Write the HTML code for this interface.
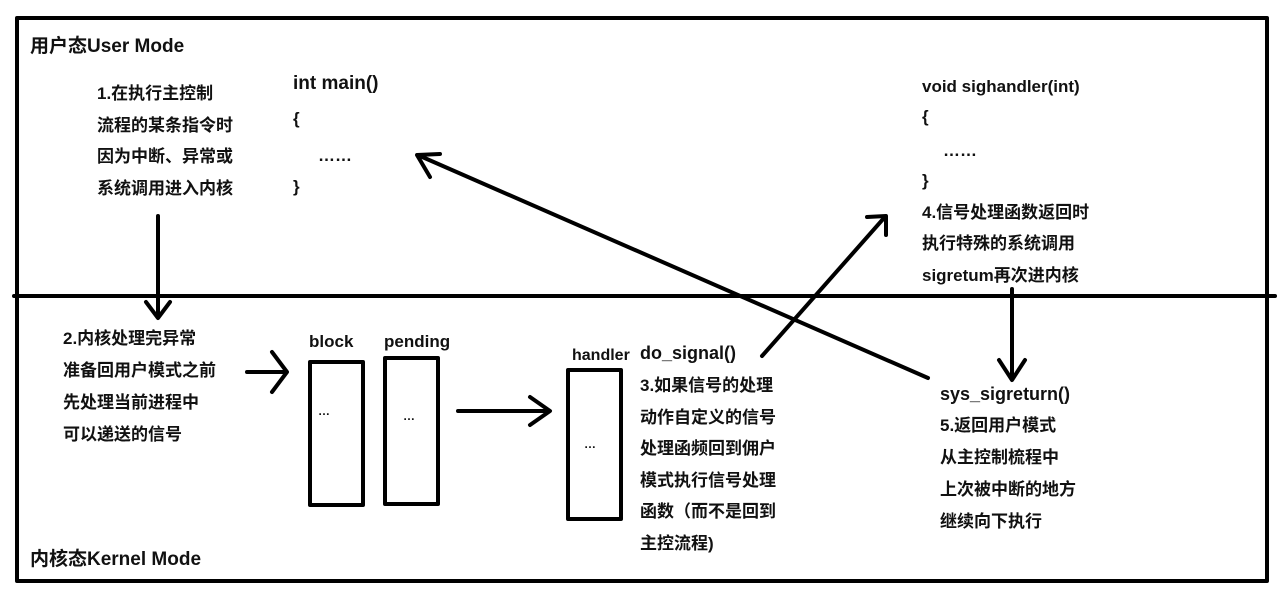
<!DOCTYPE html>
<html><head><meta charset="utf-8"><style>
html,body{margin:0;padding:0;background:#fff;}
svg{display:block}
text{font-family:"Liberation Sans","Noto Sans CJK SC",sans-serif;font-weight:bold;font-size:17px;fill:#111}
</style></head><body>
<svg width="1280" height="594" viewBox="0 0 1280 594" xmlns="http://www.w3.org/2000/svg">
<g stroke="#000" stroke-width="4" fill="none" stroke-linecap="round" stroke-linejoin="round">
<rect x="17" y="18" width="1250" height="563"/>
<line x1="14" y1="296" x2="1275" y2="296"/>
<rect x="310" y="362" width="53" height="143"/>
<rect x="385" y="358" width="53" height="146"/>
<rect x="568" y="370" width="53" height="149"/>
<!-- arrow 1 -->
<line x1="158" y1="216" x2="158" y2="316"/>
<polyline points="146,302 158,318 170,302"/>
<!-- arrow 2 -->
<line x1="247" y1="372" x2="286" y2="372"/>
<polyline points="272,352 287,372 272,392"/>
<!-- arrow pending->handler -->
<line x1="458" y1="411" x2="549" y2="411"/>
<polyline points="530,397 550,411 530,425"/>
<!-- long arrow sys_sigreturn -> main -->
<line x1="928" y1="378" x2="420" y2="156"/>
<polyline points="440,154 417,155 430,177"/>
<!-- do_signal -> handler -->
<line x1="762" y1="356" x2="884" y2="218"/>
<polyline points="867,217 886,216 886,235"/>
<!-- down arrow -->
<line x1="1012" y1="289" x2="1012" y2="378"/>
<polyline points="999,360 1012,380 1025,360"/>
</g>
<text x="30" y="52" style="font-size:19px">用户态User Mode</text>
<text x="30" y="565" style="font-size:19px">内核态Kernel Mode</text>
<text x="97" y="99">1.在执行主控制</text>
<text x="97" y="131">流程的某条指令时</text>
<text x="97" y="162">因为中断、异常或</text>
<text x="97" y="194">系统调用进入内核</text>
<text x="293" y="89" style="font-size:19px">int main()</text>
<text x="293" y="124">{</text>
<text x="318" y="161">……</text>
<text x="293" y="192">}</text>
<text x="922" y="92">void sighandler(int)</text>
<text x="922" y="122">{</text>
<text x="943" y="156">……</text>
<text x="922" y="186">}</text>
<text x="922" y="218">4.信号处理函数返回时</text>
<text x="922" y="249">执行特殊的系统调用</text>
<text x="922" y="281">sigretum再次进内核</text>
<text x="63" y="344">2.内核处理完异常</text>
<text x="63" y="376">准备回用户模式之前</text>
<text x="63" y="408">先处理当前进程中</text>
<text x="63" y="440">可以递送的信号</text>
<text x="309" y="347">block</text>
<text x="384" y="347">pending</text>
<text x="318" y="415" style="font-size:12px">…</text>
<text x="403" y="420" style="font-size:12px">…</text>
<text x="584" y="448" style="font-size:12px">…</text>
<text x="572" y="360" style="font-size:16px">handler</text>
<text x="640" y="359" style="font-size:18px">do_signal()</text>
<text x="640" y="391">3.如果信号的处理</text>
<text x="640" y="423">动作自定义的信号</text>
<text x="640" y="454">处理函频回到佣户</text>
<text x="640" y="486">模式执行信号处理</text>
<text x="640" y="517">函数（而不是回到</text>
<text x="640" y="549">主控流程)</text>
<text x="940" y="400" style="font-size:18px">sys_sigreturn()</text>
<text x="940" y="431">5.返回用户模式</text>
<text x="940" y="463">从主控制梳程中</text>
<text x="940" y="495">上次被中断的地方</text>
<text x="940" y="527">继续向下执行</text>
</svg>
</body></html>
